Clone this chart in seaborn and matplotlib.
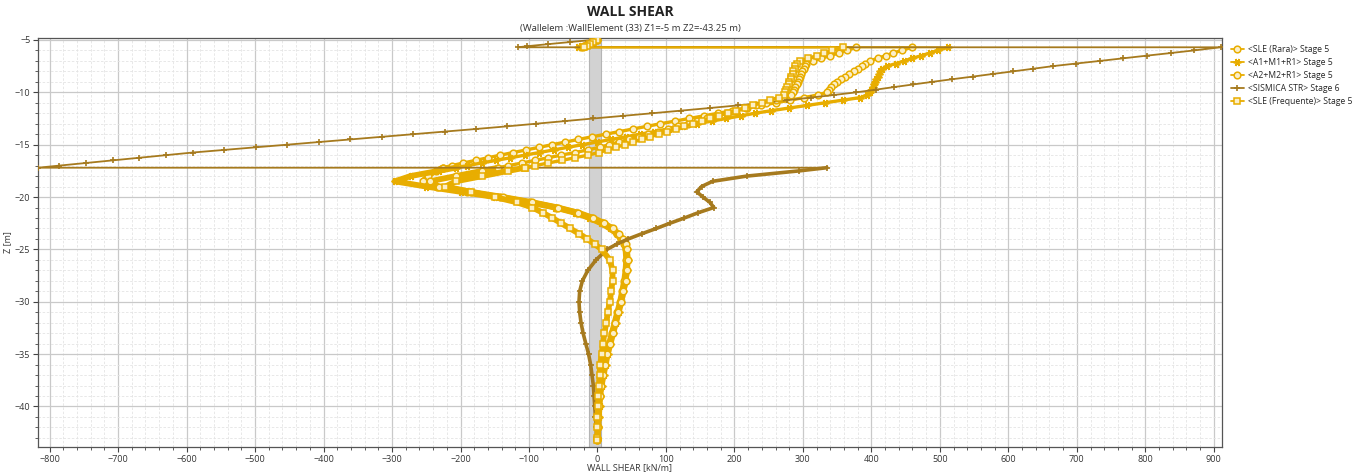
import numpy as np
import pandas as pd
import matplotlib
matplotlib.use("Agg")
import matplotlib.pyplot as plt
from matplotlib.ticker import MultipleLocator
import seaborn as sns

# ---- depth samples (m): above strut 1, between struts, below strut 2 ----
depth_top = [-5.0, -5.2, -5.4, -5.6, -5.7]
depth_mid = [-5.7] + [float(v) for v in np.round(np.arange(-6.0, -17.01, -0.25), 2)] + [-17.2]
depth_low = ([-17.2] + [float(v) for v in np.round(np.arange(-17.5, -25.01, -0.5), 2)]
             + [float(v) for v in np.arange(-26.0, -43.01, -1.0)] + [-43.25])

series_names = ["<SLE (Rara)> Stage 5", "<A1+M1+R1> Stage 5", "<A2+M2+R1> Stage 5",
                "<SISMICA STR> Stage 6", "<SLE (Frequente)> Stage 5"]

# ---- wall shear (kN/m) ----
rara_top = [0, -7, -14, -20, -24]
rara_mid = [459, 444, 432, 421, 409, 398, 391, 386, 380, 374, 368, 362, 356, 350, 345, 341, 338,
            335, 322, 302, 281, 260, 239, 218, 197, 176, 155, 134, 113, 92, 72, 52, 32, 12, -8,
            -28, -47, -66, -85, -104, -123, -142, -160, -178, -196, -213, -226]
rara_low = [-226, -236, -248, -255, -235, -190, -142, -98, -60, -30, -8, 8, 20, 29, 35, 39, 41,
            42, 41, 39, 36, 33, 29, 25, 21, 17, 13, 10, 7, 5, 3, 2, 1, 1, 0, 0]

a1_top = [0, -8, -16, -24, -28]
a1_mid = [512, 497, 485, 473, 460, 448, 436, 423, 416, 413, 411, 409, 407, 405, 404, 402, 400,
          398, 394, 384, 358, 332, 306, 280, 254, 230, 209, 188, 167, 146, 125, 104, 83, 62, 41,
          20, -1, -22, -43, -64, -85, -106, -127, -148, -169, -190, -207]
a1_low = [-207, -232, -273, -296, -250, -200, -150, -100, -62, -33, -12, 5, 18, 28, 35, 40, 43,
          44, 43, 41, 38, 35, 31, 27, 23, 19, 15, 12, 9, 6, 4, 3, 2, 1, 0, 0]

a2_top = [0, -6, -12, -18, -21]
a2_mid = [378, 364, 352, 340, 327, 315, 305, 303, 301, 299, 297, 296, 294, 293, 291, 289, 287,
          285, 282, 274, 260, 246, 231, 217, 203, 189, 174, 160, 146, 132, 117, 103, 89, 74, 60,
          46, 31, 17, 3, -14, -33, -53, -72, -91, -110, -130, -145]
a2_low = [-145, -168, -207, -245, -232, -185, -138, -95, -58, -28, -6, 10, 22, 31, 37, 41, 43,
          44, 43, 41, 38, 34, 30, 26, 22, 18, 14, 11, 8, 5, 3, 2, 1, 1, 0, 0]

sis_top = [-8, -40, -72, -103, -116]
sis_mid = [910, 871, 837, 802, 768, 734, 699, 665, 636, 607, 577, 548, 518, 489, 461, 433, 406,
           378, 346, 312, 277, 242, 205, 164, 122, 80, 37, -6, -48, -90, -132, -177, -223, -269,
           -315, -361, -407, -453, -499, -545, -591, -630, -669, -708, -747, -786, -817]
sis_low = [335, 295, 218, 168, 152, 145, 154, 164, 170, 147, 127, 106, 86, 65, 45, 28, 14,
           -2, -14, -22, -26, -27, -26, -24, -21, -17, -13, -10, -8, -6, -5, -4, -3, -2, -1, 0]

freq_top = [0, -6, -11, -16, -19]
freq_mid = [358, 343, 331, 320, 308, 296, 291, 289, 288, 286, 285, 283, 282, 280, 279, 277, 276,
            274, 272, 265, 252, 240, 227, 215, 202, 190, 177, 165, 152, 140, 127, 115, 102, 90, 77,
            65, 52, 40, 27, 15, 2, -14, -33, -52, -72, -91, -106]
freq_low = [-106, -130, -168, -207, -222, -185, -150, -118, -95, -80, -66, -53, -40, -27, -15, -4,
            6, 18, 22, 22, 20, 18, 15, 13, 10, 8, 6, 4, 3, 2, 1, 1, 0, 0, 0, 0]

segments = {
    series_names[0]: (rara_top, rara_mid, rara_low),
    series_names[1]: (a1_top, a1_mid, a1_low),
    series_names[2]: (a2_top, a2_mid, a2_low),
    series_names[3]: (sis_top, sis_mid, sis_low),
    series_names[4]: (freq_top, freq_mid, freq_low),
}

frames = []
for name in series_names:
    for seg, (d, v) in zip(("top", "mid", "low"),
                           zip((depth_top, depth_mid, depth_low), segments[name])):
        frames.append(pd.DataFrame({"series": name, "segment": seg, "depth": d, "shear": v}))
df = pd.concat(frames, ignore_index=True)
df["order"] = np.arange(len(df))

YELLOW = "#E8AD00"
BROWN = "#A67A1E"
FILL = "#FBEFC8"
styles = {
    series_names[0]: dict(color=YELLOW, marker="o", ms=4.8, mfc=FILL, mew=1.1, band={"mid": 2.4, "low": 4.2}),
    series_names[1]: dict(color=YELLOW, marker=(6, 2, 90), ms=5.6, mfc=YELLOW, mew=1.2, band={"mid": 2.4, "low": 4.2}),
    series_names[2]: dict(color=YELLOW, marker="o", ms=4.8, mfc=FILL, mew=1.1, band={"mid": 2.4, "low": 4.2}),
    series_names[3]: dict(color=BROWN, marker="+", ms=5.0, mfc=BROWN, mew=1.2, band={"low": 2.6}),
    series_names[4]: dict(color=YELLOW, marker="s", ms=4.4, mfc=FILL, mew=1.1, band={"mid": 2.4, "low": 4.2}),
}

sns.set_theme(style="white")
plt.rcParams["font.family"] = ["Open Sans", "DejaVu Sans"]

fig = plt.figure(figsize=(13.66, 4.74), dpi=100)
ax = fig.add_axes([0.0278, 0.0570, 0.8668, 0.8629])

# wall thickness band
ax.axvspan(-12, 5, color="#d2d2d2", zorder=1, lw=0)
for xv in (-12, 5):
    ax.axvline(xv, color="#b4b4b4", lw=0.8, zorder=1)

for i, name in enumerate(series_names):
    st = styles[name]
    full = df[df["series"] == name].sort_values("order")
    # continuous stretches drawn as a solid band, jumps at the struts stay thin
    for seg, width in st["band"].items():
        part = full[full["segment"] == seg]
        sns.lineplot(data=part, x="shear", y="depth", sort=False, estimator=None, orient="y",
                     ax=ax, color=st["color"], linewidth=width, legend=False,
                     zorder=3 + i)
    sns.lineplot(data=full, x="shear", y="depth", sort=False, estimator=None, orient="y",
                 ax=ax, label=name, color=st["color"], marker=st["marker"],
                 markersize=st["ms"], markeredgecolor=st["color"], markeredgewidth=st["mew"],
                 markerfacecolor=st["mfc"], linewidth=1.3, zorder=3 + i)

ax.set_xlim(-817, 912)
ax.set_ylim(-43.87, -4.81)
ax.xaxis.set_major_locator(MultipleLocator(100))
ax.xaxis.set_minor_locator(MultipleLocator(20))
ax.yaxis.set_major_locator(MultipleLocator(5))
ax.yaxis.set_minor_locator(MultipleLocator(1))
ax.grid(which="major", color="#c9c9c9", lw=0.9, zorder=0)
ax.grid(which="minor", color="#e4e4e4", lw=0.6, ls=(0, (3, 2)), zorder=0)
ax.set_axisbelow(True)
ax.tick_params(which="major", direction="out", length=3.5, width=0.8, color="#444444",
               labelsize=6.5, labelcolor="#333333", bottom=True, left=True, pad=2)
ax.tick_params(which="minor", direction="out", length=2.2, width=0.6, color="#444444",
               bottom=True, left=True)
for sp in ax.spines.values():
    sp.set_color("#555555")
    sp.set_linewidth(0.9)

ax.set_xlabel("WALL SHEAR [kN/m]", fontsize=6.5, color="#333333", labelpad=0)
ax.set_ylabel("Z [m]", fontsize=6.5, color="#333333", labelpad=2)

fig.text(0.4612, 0.974, "WALL SHEAR", ha="center", va="center", fontsize=10,
         fontweight="bold", color="#222222")
fig.text(0.4612, 0.940, "(Wallelem :WallElement (33) Z1=-5 m Z2=-43.25 m)", ha="center",
         va="center", fontsize=6.8, color="#333333")

leg = ax.legend(loc="upper left", bbox_to_anchor=(1.003, 0.995), frameon=False, fontsize=6.2,
                handlelength=1.5, handletextpad=0.5, labelspacing=0.45, borderaxespad=0.2)
for h in leg.get_lines():
    h.set_linewidth(1.3)

fig.savefig("out.png", dpi=100)
